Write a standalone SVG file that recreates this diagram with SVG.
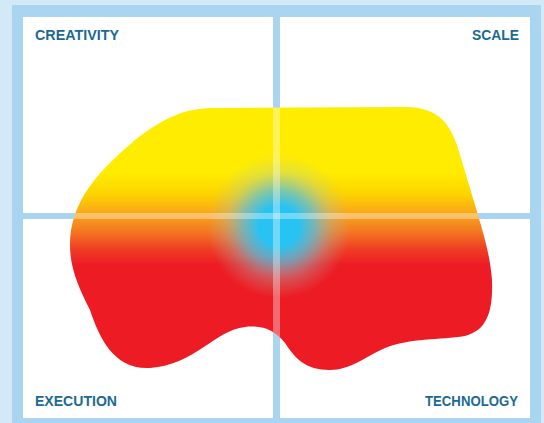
<svg xmlns="http://www.w3.org/2000/svg" width="544" height="423" viewBox="0 0 544 423">
<style>
.lbl{font-family:"Liberation Sans",Arial,sans-serif;font-weight:bold;font-size:14px;fill:#1b6a92}
.div{fill:#a9d5f0}
.hl{fill:#ffffff;fill-opacity:0.35}
</style>
<defs>
<linearGradient id="heat" x1="0" y1="107" x2="0" y2="370" gradientUnits="userSpaceOnUse">
<stop offset="0" stop-color="#ffed00"/>
<stop offset="0.25" stop-color="#ffec00"/>
<stop offset="0.33" stop-color="#fdd400"/>
<stop offset="0.41" stop-color="#f9a31a"/>
<stop offset="0.47" stop-color="#f47a20"/>
<stop offset="0.54" stop-color="#ef3e24"/>
<stop offset="0.6" stop-color="#ed1c24"/>
<stop offset="1" stop-color="#ed1c24"/>
</linearGradient>
<radialGradient id="cool" cx="279" cy="226" r="72" gradientUnits="userSpaceOnUse">
<stop offset="0" stop-color="#27c3f3" stop-opacity="1"/>
<stop offset="0.28" stop-color="#27c3f3" stop-opacity="1"/>
<stop offset="0.5" stop-color="#55c2e0" stop-opacity="0.75"/>
<stop offset="0.75" stop-color="#9cc8c0" stop-opacity="0.3"/>
<stop offset="1" stop-color="#b0c8b0" stop-opacity="0"/>
</radialGradient>
<clipPath id="blobClip">
<path id="blobPath" d="M215,108 L405,107 C440,107 450,125 458,148 L475,205 C484,235 490,255 492,280 C493,310 488,330 465,336 C440,340 410,338 385,348 C365,357 350,370 330,370 C305,370 295,358 285,343 C275,330 262,325 245,327 C215,330 195,365 150,368 C115,370 100,340 90,310 C80,290 70,270 70,245 C70,200 100,170 135,140 C165,117 185,108 215,108 Z"/>
</clipPath>
</defs>
<g id="frame">
<rect x="0" y="0" width="544" height="423" fill="#d4e9f7"/>
<rect x="12" y="5" width="529" height="418" fill="#a9d5f0"/>
<rect x="23" y="17" width="507" height="401" fill="#ffffff"/>
</g>
<g id="connectors">
<rect class="div" x="273" y="17" width="7" height="401"/>
<rect class="div" x="23" y="213" width="507" height="6"/>
</g>
<g id="heatmap">
<g clip-path="url(#blobClip)">
<rect x="60" y="100" width="440" height="280" fill="url(#heat)"/>
<rect x="190" y="140" width="180" height="180" fill="url(#cool)"/>
<rect class="hl" x="273" y="100" width="7" height="280"/>
<rect class="hl" x="60" y="213" width="440" height="6"/>
</g>
</g>
<g id="creativity"><text class="lbl" x="35" y="40" textLength="84" lengthAdjust="spacingAndGlyphs">CREATIVITY</text></g>
<g id="scale"><text class="lbl" x="472" y="40" textLength="47" lengthAdjust="spacingAndGlyphs">SCALE</text></g>
<g id="execution"><text class="lbl" x="35" y="406" textLength="82" lengthAdjust="spacingAndGlyphs">EXECUTION</text></g>
<g id="technology"><text class="lbl" x="425" y="406" textLength="93" lengthAdjust="spacingAndGlyphs">TECHNOLOGY</text></g>
</svg>
